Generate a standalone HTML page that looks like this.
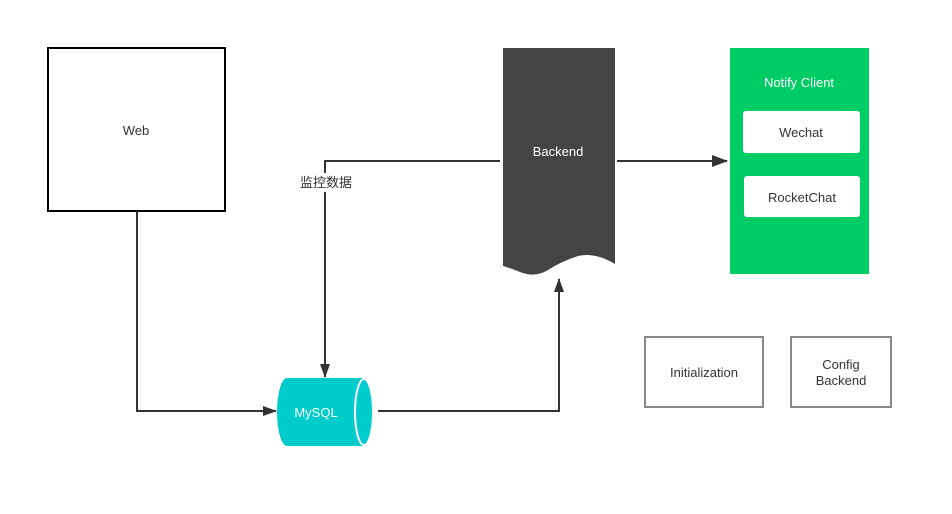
<!DOCTYPE html>
<html><head><meta charset="utf-8"><style>
body{margin:0;background:#fff;}
svg text{font-family:"Liberation Sans","Noto Sans CJK SC",sans-serif;font-size:13px;}
</style></head><body>
<svg width="952" height="509" viewBox="0 0 952 509" xmlns="http://www.w3.org/2000/svg">
<defs><marker id="a" markerWidth="14" markerHeight="10" refX="13" refY="5" orient="auto" markerUnits="userSpaceOnUse"><path d="M0,0 L14,5 L0,10 z" fill="#333"/></marker>
<marker id="b" markerWidth="16" markerHeight="12" refX="15" refY="6" orient="auto" markerUnits="userSpaceOnUse"><path d="M0,0 L16,6 L0,12 z" fill="#333"/></marker></defs>
<rect x="48" y="48" width="177" height="163" fill="#fff" stroke="#000" stroke-width="2"/>
<text x="136" y="135" text-anchor="middle" fill="#333">Web</text>
<path d="M503,48 H615 V264 Q595,252 578,256 Q560,262 548,270 Q535,278 520,272 Q510,268 503,266 Z" fill="#444"/>
<text x="558" y="156" text-anchor="middle" fill="#fff">Backend</text>
<rect x="730" y="48" width="139" height="226" fill="#00cc66"/>
<text x="799" y="87" text-anchor="middle" fill="#fff">Notify Client</text>
<rect x="743" y="111" width="117" height="42" rx="3" fill="#fff"/>
<text x="801" y="137" text-anchor="middle" fill="#333">Wechat</text>
<rect x="744" y="176" width="116" height="41" rx="3" fill="#fff"/>
<text x="802" y="202" text-anchor="middle" fill="#333">RocketChat</text>
<rect x="645" y="337" width="118" height="70" fill="#fff" stroke="#888" stroke-width="2"/>
<text x="704" y="377" text-anchor="middle" fill="#333">Initialization</text>
<rect x="791" y="337" width="100" height="70" fill="#fff" stroke="#888" stroke-width="2"/>
<text x="841" y="369" text-anchor="middle" fill="#333">Config</text>
<text x="841" y="385" text-anchor="middle" fill="#333">Backend</text>
<path d="M287,378 H364 A10,34 0 0 1 364,446 H287 A10,34 0 0 1 287,378 Z" fill="#00cccc"/>
<ellipse cx="364" cy="412" rx="9" ry="33" fill="none" stroke="#fff" stroke-width="2"/>
<text x="316" y="417" text-anchor="middle" fill="#fff">MySQL</text>
<path d="M137,211 V411 H276" fill="none" stroke="#333" stroke-width="2" marker-end="url(#a)"/>
<path d="M378,411 H559 V279" fill="none" stroke="#333" stroke-width="2" marker-end="url(#a)"/>
<path d="M500,161 H325 V173 M325,192 V377" fill="none" stroke="#333" stroke-width="2" marker-end="url(#a)"/>
<text x="326" y="187" text-anchor="middle" fill="#333">监控数据</text>
<path d="M617,161 H727" fill="none" stroke="#333" stroke-width="2" marker-end="url(#b)"/>
</svg>
</body></html>
